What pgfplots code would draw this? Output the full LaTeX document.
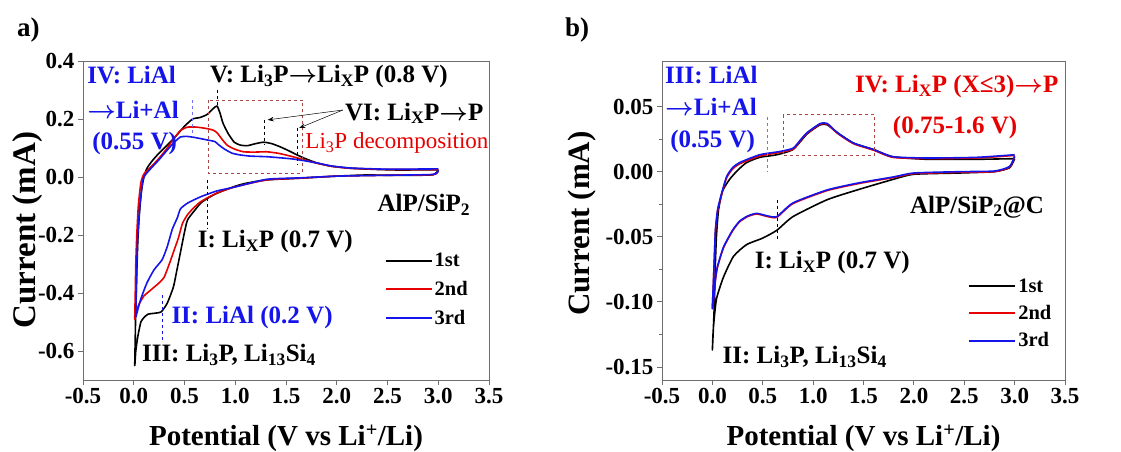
\documentclass[border=0pt]{standalone}
\usepackage{fontspec}
\setmainfont{Liberation Serif}
\usepackage{pgfplots}
\pgfplotsset{compat=1.18}
\usetikzlibrary{arrows.meta}

\definecolor{cvred}{RGB}{230,0,0}
\definecolor{cvblue}{RGB}{20,20,235}
\definecolor{boxred}{RGB}{170,70,70}
\definecolor{frame}{RGB}{110,110,110}

\newcommand{\ann}{\bfseries\fontsize{25}{25}\selectfont}
\newcommand{\sub}[1]{\textsubscript{#1}}
\newcommand{\ar}{{\boldmath$\rightarrow$}}

\pgfplotsset{
  cvaxis/.style={
    scale only axis, height=319pt, clip=false,
    xmin=-0.5, xmax=3.5, xtick={-0.5,0,...,3.5},
    tick align=outside, tick pos=left,
    axis line style={frame, line width=0.8pt},
    major tick style={frame, line width=0.8pt}, major tick length=5pt,
    minor tick style={frame, line width=0.8pt}, minor tick length=3pt,
    /pgf/number format/assume math mode=true,
    ticklabel style={font=\bfseries\fontsize{23}{23}\selectfont},
    xticklabel style={/pgf/number format/.cd, fixed, fixed zerofill, precision=1},
    xlabel style={font=\bfseries\fontsize{29}{29}\selectfont},
    xlabel={Potential (V vs Li\textsuperscript{+}/Li)},
    ylabel={Current (mA)},
    xlabel style={at={(axis description cs:0.5,-0.182)}, anchor=center},
    legend cell align=left,
    legend image code/.code={\draw[#1, line width=2pt] (0pt,0pt) -- (46pt,0pt);},
    legend style={draw=none, fill=none, anchor=north west,
      font=\bfseries\fontsize{20.5}{20.5}\selectfont,
      /tikz/every even column/.append style={column sep=1pt}},
    every axis plot/.append style={line width=1.6pt, line join=round, no markers, smooth, tension=0.35},
  }
}

\begin{document}
\begin{tikzpicture}
\useasboundingbox (0pt,0pt) rectangle (1121pt,-452pt);

% ---------------- a) AlP/SiP2 ----------------
\begin{axis}[cvaxis, at={(83pt,-380pt)}, anchor=south west, width=406pt,
  ymin=-0.7, ymax=0.4, ytick={-0.6,-0.4,...,0.4},
  yticklabel style={/pgf/number format/.cd, fixed, fixed zerofill, precision=1},
  ylabel style={at={(axis description cs:-0.137,0.47)}, anchor=center,
    font=\bfseries\fontsize{33}{33}\selectfont},
  legend style={at={(axis description cs:0.735,0.41)}, row sep=9pt},
]
\addplot[black] coordinates {
  (3.0,0.022)(2.95,0.008)(2.8,0.006)(2.5,0.006)(2.29,0.007)(2.0,0.003)(1.64,-0.004)
  (1.31,-0.01)(1.1,-0.022)(0.99,-0.033)(0.82,-0.056)(0.72,-0.075)(0.66,-0.09)(0.6,-0.115)
  (0.53,-0.148)(0.5,-0.19)(0.46,-0.26)(0.42,-0.33)(0.39,-0.38)(0.33,-0.435)(0.27,-0.465)
  (0.2,-0.47)(0.14,-0.473)(0.1,-0.485)(0.07,-0.5)(0.04,-0.55)(0.02,-0.6)(0.01,-0.65)
  (0.015,-0.55)(0.02,-0.45)(0.03,-0.33)(0.04,-0.22)(0.055,-0.13)(0.075,-0.05)(0.1,0.0)
  (0.13,0.03)(0.18,0.055)(0.23,0.075)(0.3,0.1)(0.4,0.135)(0.5,0.175)(0.58,0.2)(0.65,0.205)
  (0.72,0.215)(0.78,0.235)(0.82,0.245)(0.85,0.22)(0.88,0.185)(0.93,0.15)(0.99,0.12)
  (1.05,0.11)(1.12,0.108)(1.2,0.115)(1.28,0.12)(1.36,0.115)(1.45,0.103)(1.53,0.09)
  (1.61,0.076)(1.7,0.062)(1.81,0.048)(1.95,0.037)(2.14,0.03)(2.4,0.026)(2.63,0.024)
  (2.85,0.025)(3.0,0.025)};
\addplot[cvred] coordinates {
  (3.0,0.022)(2.95,0.008)(2.5,0.006)(2.0,0.003)(1.64,-0.004)(1.31,-0.01)(0.99,-0.035)
  (0.82,-0.055)(0.66,-0.085)(0.58,-0.11)(0.53,-0.13)(0.48,-0.16)(0.44,-0.21)(0.39,-0.26)
  (0.35,-0.3)(0.3,-0.345)(0.25,-0.365)(0.2,-0.38)(0.15,-0.395)(0.1,-0.41)(0.05,-0.44)
  (0.02,-0.47)(0.01,-0.49)
  (0.015,-0.4)(0.02,-0.3)(0.03,-0.2)(0.045,-0.1)(0.07,-0.02)(0.1,0.01)(0.17,0.035)
  (0.25,0.065)(0.33,0.1)(0.4,0.135)(0.46,0.16)(0.53,0.172)(0.62,0.172)(0.72,0.167)
  (0.78,0.162)(0.82,0.153)(0.87,0.13)(0.92,0.11)(0.98,0.098)(1.08,0.087)(1.2,0.086)
  (1.31,0.087)(1.42,0.082)(1.51,0.075)(1.61,0.066)(1.71,0.056)(1.81,0.047)(1.95,0.037)
  (2.14,0.03)(2.5,0.026)(3.0,0.026)};
\addplot[cvblue] coordinates {
  (3.0,0.024)(2.95,0.009)(2.5,0.006)(2.0,0.003)(1.64,-0.003)(1.31,-0.008)(0.99,-0.035)
  (0.82,-0.048)(0.66,-0.068)(0.53,-0.09)(0.46,-0.11)(0.43,-0.14)(0.38,-0.18)(0.33,-0.24)
  (0.28,-0.285)(0.2,-0.32)(0.13,-0.365)(0.07,-0.42)(0.03,-0.47)(0.02,-0.48)
  (0.025,-0.4)(0.03,-0.3)(0.04,-0.2)(0.06,-0.1)(0.09,-0.01)(0.12,0.01)(0.17,0.03)
  (0.25,0.06)(0.33,0.093)(0.4,0.12)(0.46,0.138)(0.52,0.14)(0.59,0.137)(0.72,0.128)
  (0.8,0.122)(0.84,0.11)(0.9,0.095)(0.97,0.082)(1.05,0.076)(1.15,0.072)(1.31,0.07)
  (1.45,0.066)(1.57,0.062)(1.7,0.055)(1.81,0.048)(1.95,0.038)(2.14,0.031)(2.5,0.027)
  (3.0,0.028)};
\legend{1st,2nd,3rd}

% guides
\draw[cvblue!60, dashed, line width=0.6pt] (axis cs:0.58,0.266) -- (axis cs:0.58,0.138);
\draw[black, dashed, line width=0.6pt] (axis cs:0.82,0.3) -- (axis cs:0.82,0.238);
\draw[boxred, dashed, line width=0.6pt] (axis cs:0.73,0.266) rectangle (axis cs:1.66,0.014);
\draw[black, dashed, line width=0.6pt] (axis cs:1.29,0.197) -- (axis cs:1.29,0.11);
\draw[black, dashed, line width=0.6pt] (axis cs:1.61,0.169) -- (axis cs:1.61,0.041);
\draw[black, line width=0.5pt, -{Stealth[length=6pt]}] (axis cs:2.06,0.231) -- (axis cs:1.32,0.197);
\draw[black, line width=0.5pt, -{Stealth[length=6pt]}] (axis cs:2.06,0.231) -- (axis cs:1.63,0.169);
\draw[black, dashed, line width=0.6pt] (axis cs:0.72,-0.01) -- (axis cs:0.72,-0.176);
\draw[cvblue, dashed, line width=0.6pt] (axis cs:0.28,-0.407) -- (axis cs:0.28,-0.562);

% labels
\node[anchor=west, inner sep=0pt, text=cvblue, font=\ann] at (axis cs:-0.46,0.352) {IV: LiAl};
\node[anchor=west, inner sep=0pt, text=cvblue, font=\ann] at (axis cs:-0.46,0.231) {\ar Li+Al};
\node[anchor=west, inner sep=0pt, text=cvblue, font=\ann] at (axis cs:-0.41,0.117) {(0.55 V)};
\node[anchor=west, inner sep=0pt, font=\ann] at (axis cs:0.75,0.345) {V: Li\sub{3}P\ar Li\sub{X}P (0.8 V)};
\node[anchor=west, inner sep=0pt, font=\ann] at (axis cs:2.08,0.22) {VI: Li\sub{X}P\ar P};
\node[anchor=west, inner sep=0pt, text=cvred, font=\fontsize{23}{23}\selectfont] at (axis cs:1.69,0.117) {Li\sub{3}P decomposition};
\node[anchor=west, inner sep=0pt, font=\ann] at (axis cs:0.63,-0.224) {I: Li\sub{X}P (0.7 V)};
\node[anchor=west, inner sep=0pt, text=cvblue, font=\ann] at (axis cs:0.37,-0.486) {II: LiAl (0.2 V)};
\node[anchor=west, inner sep=0pt, font=\ann] at (axis cs:0.08,-0.614) {III: Li\sub{3}P, Li\sub{13}Si\sub{4}};
\node[anchor=west, inner sep=0pt, font=\ann] at (axis cs:2.4,-0.097) {AlP/SiP\sub{2}};
\end{axis}
\node[anchor=west, inner sep=0pt, font=\bfseries\fontsize{27}{27}\selectfont] at (17pt,-30pt) {a)};

% ---------------- b) AlP/SiP2@C ----------------
\begin{axis}[cvaxis, at={(662pt,-380pt)}, anchor=south west, width=403pt,
  ymin=-0.16, ymax=0.085, ytick={-0.15,-0.10,...,0.05},
  minor y tick num=1,
  yticklabel style={/pgf/number format/.cd, fixed, fixed zerofill, precision=2},
  ylabel style={at={(axis description cs:-0.199,0.49)}, anchor=center,
    font=\bfseries\fontsize{31}{31}\selectfont},
  legend style={at={(axis description cs:0.752,0.33)}, row sep=7.5pt},
]
\addplot[black] coordinates {
  (3.0,0.01)(2.95,0.003)(2.8,0.0)(2.46,-0.001)(2.0,-0.002)(1.79,-0.006)(1.46,-0.0135)
  (1.14,-0.0215)(0.8,-0.0345)(0.64,-0.045)(0.5,-0.051)(0.34,-0.056)(0.21,-0.065)
  (0.11,-0.081)(0.04,-0.098)(0.01,-0.12)(0.0,-0.137)
  (0.01,-0.12)(0.02,-0.1)(0.03,-0.07)(0.04,-0.05)(0.06,-0.03)(0.1,-0.015)(0.17,-0.006)
  (0.25,0.001)(0.34,0.007)(0.47,0.011)(0.64,0.013)(0.8,0.017)(0.94,0.029)(1.07,0.036)
  (1.14,0.036)(1.24,0.03)(1.4,0.022)(1.6,0.017)(1.79,0.0115)(2.13,0.0095)(2.62,0.0095)
  (3.0,0.01)};
\addplot[cvred] coordinates {
  (3.0,0.0115)(2.95,0.0035)(2.8,0.0)(2.46,-0.0005)(2.0,-0.0015)(1.8,-0.0045)(1.46,-0.009)
  (1.14,-0.0145)(0.8,-0.0245)(0.64,-0.035)(0.55,-0.0345)(0.44,-0.0325)(0.35,-0.0345)
  (0.27,-0.0385)(0.2,-0.0455)(0.11,-0.0585)(0.05,-0.0735)(0.03,-0.0835)(0.01,-0.1)(0.0,-0.105)
  (0.01,-0.086)(0.02,-0.066)(0.03,-0.046)(0.05,-0.031)(0.08,-0.021)(0.14,-0.005)(0.2,0.002)
  (0.27,0.006)(0.47,0.012)(0.67,0.0148)(0.8,0.0172)(0.87,0.0235)(0.94,0.0295)(1.07,0.0365)
  (1.14,0.0365)(1.24,0.0295)(1.4,0.0215)(1.6,0.0165)(1.79,0.011)(2.13,0.01)(2.62,0.0105)
  (3.0,0.0125)};
\addplot[cvblue] coordinates {
  (3.0,0.012)(2.95,0.004)(2.8,0.0005)(2.46,0.0)(2.0,-0.001)(1.8,-0.004)(1.46,-0.0085)
  (1.14,-0.014)(0.8,-0.024)(0.64,-0.0345)(0.55,-0.034)(0.44,-0.032)(0.35,-0.034)
  (0.27,-0.038)(0.2,-0.045)(0.11,-0.058)(0.05,-0.073)(0.03,-0.083)(0.01,-0.1)(0.0,-0.105)
  (0.01,-0.085)(0.02,-0.065)(0.03,-0.045)(0.05,-0.03)(0.08,-0.02)(0.14,-0.004)(0.2,0.003)
  (0.27,0.007)(0.47,0.013)(0.67,0.0155)(0.8,0.018)(0.87,0.024)(0.94,0.03)(1.07,0.037)
  (1.14,0.037)(1.24,0.03)(1.4,0.022)(1.6,0.017)(1.79,0.0115)(2.13,0.0105)(2.62,0.011)
  (3.0,0.013)};
\legend{1st,2nd,3rd}

\draw[cvblue!60, dashed, line width=0.6pt] (axis cs:0.55,0.042) -- (axis cs:0.55,0.0);
\draw[boxred, dashed, line width=0.6pt] (axis cs:0.70,0.0438) rectangle (axis cs:1.61,0.0123);
\draw[black, dashed, line width=0.6pt] (axis cs:0.64,-0.0215) -- (axis cs:0.64,-0.052);

\node[anchor=west, inner sep=0pt, text=cvblue, font=\ann] at (axis cs:-0.47,0.0746) {III: LiAl};
\node[anchor=west, inner sep=0pt, text=cvblue, font=\ann] at (axis cs:-0.47,0.05) {\ar Li+Al};
\node[anchor=west, inner sep=0pt, text=cvblue, font=\ann] at (axis cs:-0.42,0.023) {(0.55 V)};
\node[anchor=west, inner sep=0pt, text=cvred, font=\ann] at (axis cs:1.415,0.0654) {IV: Li\sub{X}P (X≤3)\ar P};
\node[anchor=west, inner sep=0pt, text=cvred, font=\ann] at (axis cs:1.79,0.0338) {(0.75-1.6 V)};
\node[anchor=west, inner sep=0pt, font=\ann] at (axis cs:0.42,-0.07) {I: Li\sub{X}P (0.7 V)};
\node[anchor=west, inner sep=0pt, font=\ann] at (axis cs:0.1,-0.142) {II: Li\sub{3}P, Li\sub{13}Si\sub{4}};
\node[anchor=west, inner sep=0pt, font=\ann] at (axis cs:1.96,-0.027) {AlP/SiP\sub{2}@C};
\end{axis}
\node[anchor=west, inner sep=0pt, font=\bfseries\fontsize{27}{27}\selectfont] at (565pt,-30pt) {b)};
\end{tikzpicture}
\end{document}
